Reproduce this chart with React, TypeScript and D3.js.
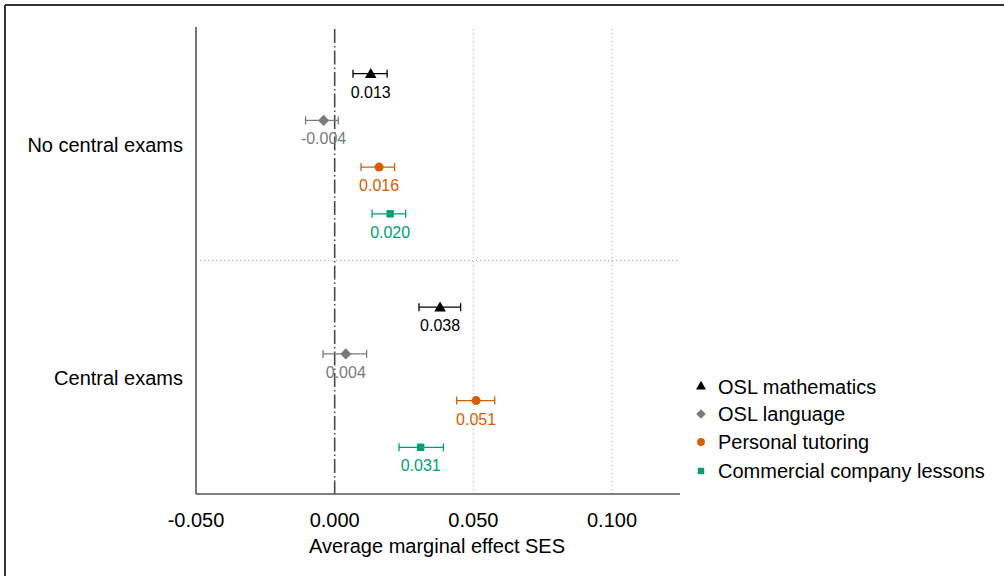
import React, { useEffect, useRef } from 'react';
import * as d3 from 'd3';

// groups (y categories) and the series plotted within each
const groups = ['No central exams', 'Central exams'];
const series = ['OSL mathematics', 'OSL language', 'Personal tutoring', 'Commercial company lessons'];
const colors = ['#000000', '#7a7a7a', '#d55e00', '#009e73'];
const shapes = ['triangle', 'diamond', 'circle', 'square'];

// estimates and 95% CI per series, one value per group
const estimates = [
  [0.013, 0.038],
  [-0.004, 0.004],
  [0.016, 0.051],
  [0.020, 0.031],
];
const lower = [
  [0.0066, 0.0304],
  [-0.0105, -0.0042],
  [0.0095, 0.044],
  [0.0135, 0.0232],
];
const upper = [
  [0.0189, 0.0454],
  [0.0013, 0.0115],
  [0.0216, 0.0577],
  [0.0256, 0.0392],
];
const xTicks = [-0.05, 0, 0.05, 0.1];

// plain hyphen minus, like the original
const fmt = (v: number) => d3.format('.3f')(v).replace('\u2212', '-');

export default function App() {
  const svgRef = useRef<SVGSVGElement>(null);

  useEffect(() => {
    const W = 1004;
    const H = 576;
    const svg = d3.select(svgRef.current).attr('width', W).attr('height', H);
    svg.selectAll('*').remove();
    const font = 'Liberation Sans, Arial, sans-serif';

    const left = 196;
    const right = 680;
    const top = 27;
    const bottom = 494;

    // scales
    const x = d3.scaleLinear().domain([-0.05, 0.1245]).range([left, right]);
    const yGroup = d3.scaleBand().domain(groups).range([top, bottom]);
    const yInner = d3.scalePoint().domain(series).range([0, yGroup.bandwidth()]).padding(1);

    // frame (only top and left visible)
    svg.append('line').attr('x1', 5).attr('x2', W).attr('y1', 5).attr('y2', 5)
      .attr('stroke', '#333').attr('stroke-width', 2);
    svg.append('line').attr('x1', 5).attr('x2', 5).attr('y1', 5).attr('y2', H)
      .attr('stroke', '#333').attr('stroke-width', 2);

    // dotted grid lines
    svg.selectAll('.vgrid')
      .data(xTicks.filter((t) => t > 0))
      .join('line')
      .attr('x1', (d) => x(d)).attr('x2', (d) => x(d))
      .attr('y1', top + 2).attr('y2', bottom)
      .attr('stroke', '#aaa').attr('stroke-width', 1).attr('stroke-dasharray', '1,3');
    svg.append('line')
      .attr('x1', left).attr('x2', right)
      .attr('y1', yGroup(groups[1])).attr('y2', yGroup(groups[1]))
      .attr('stroke', '#aaa').attr('stroke-width', 1).attr('stroke-dasharray', '1,3');

    // zero line
    svg.append('line')
      .attr('x1', x(0)).attr('x2', x(0)).attr('y1', top + 2).attr('y2', bottom)
      .attr('stroke', '#4a4a4a').attr('stroke-width', 1.6).attr('stroke-dasharray', '14,3,1.5,3');

    // axes
    svg.append('line').attr('x1', left).attr('x2', left).attr('y1', top).attr('y2', bottom)
      .attr('stroke', '#555').attr('stroke-width', 1.6);
    svg.append('line').attr('x1', left).attr('x2', right).attr('y1', bottom).attr('y2', bottom)
      .attr('stroke', '#555').attr('stroke-width', 1.6);

    svg.selectAll('.xtick')
      .data(xTicks)
      .join('text')
      .attr('x', (d) => x(d))
      .attr('y', 527)
      .attr('text-anchor', 'middle')
      .attr('font-family', font).attr('font-size', 20).attr('fill', '#000')
      .text((d) => fmt(d));

    svg.append('text')
      .attr('x', (left + right) / 2 - 1)
      .attr('y', 553)
      .attr('text-anchor', 'middle')
      .attr('font-family', font).attr('font-size', 20).attr('fill', '#000')
      .text('Average marginal effect SES');

    svg.selectAll('.ylab')
      .data(groups)
      .join('text')
      .attr('x', 183)
      .attr('y', (d) => yGroup(d)! + yGroup.bandwidth() / 2 + 8)
      .attr('text-anchor', 'end')
      .attr('font-family', font).attr('font-size', 20).attr('fill', '#000')
      .text((d) => d);

    const symbolOf = (s: string, size: number) => {
      const t = s === 'triangle' ? d3.symbolTriangle
        : s === 'diamond' ? d3.symbolDiamond2
        : s === 'circle' ? d3.symbolCircle : d3.symbolSquare2;
      return d3.symbol(t, size)();
    };
    const symSize: Record<string, number> = { triangle: 58, diamond: 78, circle: 64, square: 70 };

    // points, error bars and labels
    series.forEach((s, si) => {
      groups.forEach((g, gi) => {
        const cy = yGroup(g)! + yInner(s)!;
        const g0 = svg.append('g').attr('stroke', colors[si]).attr('stroke-width', 1.3);
        const x0 = x(lower[si][gi]);
        const x1 = x(upper[si][gi]);
        g0.append('line').attr('x1', x0).attr('x2', x1).attr('y1', cy).attr('y2', cy);
        g0.append('line').attr('x1', x0).attr('x2', x0).attr('y1', cy - 4).attr('y2', cy + 4);
        g0.append('line').attr('x1', x1).attr('x2', x1).attr('y1', cy - 4).attr('y2', cy + 4);
        svg.append('path')
          .attr('d', symbolOf(shapes[si], symSize[shapes[si]]))
          .attr('transform', `translate(${x(estimates[si][gi])},${cy + (shapes[si] === 'triangle' ? 1 : 0)})`)
          .attr('fill', colors[si]);
        svg.append('text')
          .attr('x', x(estimates[si][gi]))
          .attr('y', cy + 24)
          .attr('text-anchor', 'middle')
          .attr('font-family', font).attr('font-size', 16).attr('fill', colors[si])
          .text(fmt(estimates[si][gi]));
      });
    });

    // legend
    const legendY = [386.5, 414, 442, 471];
    series.forEach((s, si) => {
      svg.append('path')
        .attr('d', symbolOf(shapes[si], symSize[shapes[si]] * 0.75))
        .attr('transform', `translate(701,${legendY[si]})`)
        .attr('fill', colors[si]);
      svg.append('text')
        .attr('x', 718)
        .attr('y', legendY[si] + 7)
        .attr('font-family', font).attr('font-size', 20).attr('fill', '#000')
        .text(s);
    });
  }, []);

  return <svg ref={svgRef} style={{ position: 'absolute', left: 0, top: 0 }}></svg>;
}
